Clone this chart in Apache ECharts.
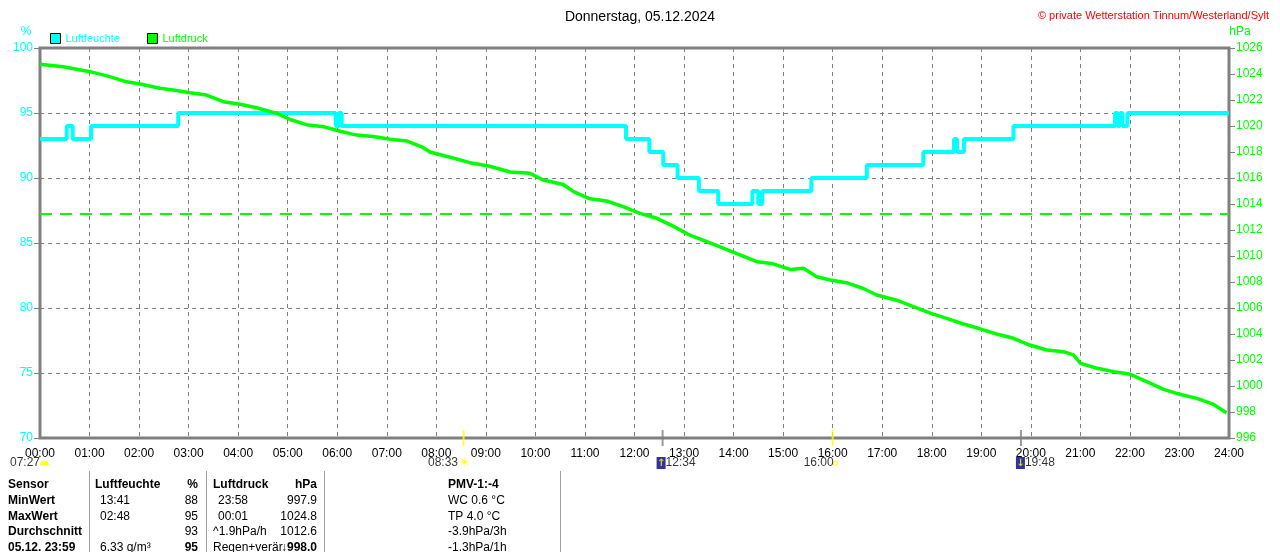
<!DOCTYPE html>
<html><head><meta charset="utf-8">
<script src="https://cdn.jsdelivr.net/npm/echarts/dist/echarts.min.js"></script>
<style>html,body{margin:0;padding:0;background:#fff}#c{width:1280px;height:552px}</style>
</head><body><div id="c"></div>
<script>
const hourLabels = ['00:00','01:00','02:00','03:00','04:00','05:00','06:00','07:00','08:00','09:00','10:00','11:00','12:00','13:00','14:00','15:00','16:00','17:00','18:00','19:00','20:00','21:00','22:00','23:00','24:00'];

const humidityTimes  = [0, 0.54, 0.66, 1.03, 2.79, 5.97, 6.03, 6.09, 11.83, 12.30, 12.58, 12.87, 13.30, 13.69, 14.38, 14.50, 14.58, 15.57, 16.69, 17.83, 18.45, 18.51, 18.65, 19.65, 21.70, 21.75, 21.80, 21.85, 21.95, 24];
const humidityValues = [93, 94, 93, 94, 95, 94, 95, 94, 93, 92, 91, 90, 89, 88, 89, 88, 89, 90, 91, 92, 93, 92, 93, 94, 95, 94, 95, 94, 95, 95];

const pressureTimes  = [0, 0.47, 1.01, 1.41, 1.75, 2.02, 2.42, 2.69, 3.03, 3.36, 3.70, 4.04, 4.37, 4.78, 5.05, 5.38, 5.72, 6.06, 6.39, 6.73, 7.07, 7.40, 7.74, 7.87, 8.28, 8.68, 9.08, 9.49, 9.89, 10.16, 10.56, 10.77, 11.10, 11.44, 11.77, 12.11, 12.45, 12.78, 13.12, 13.46, 13.79, 14.13, 14.47, 14.80, 15.14, 15.41, 15.68, 15.95, 16.28, 16.62, 16.89, 17.29, 17.63, 17.97, 18.30, 18.64, 18.97, 19.31, 19.65, 19.98, 20.32, 20.66, 20.86, 21.00, 21.34, 21.68, 22.01, 22.34, 22.68, 23.01, 23.35, 23.68, 23.95];
const pressureValues = [1024.75, 1024.56, 1024.18, 1023.8, 1023.4, 1023.23, 1022.9, 1022.77, 1022.56, 1022.38, 1021.87, 1021.67, 1021.4, 1020.97, 1020.5, 1020.1, 1019.95, 1019.6, 1019.3, 1019.2, 1018.98, 1018.85, 1018.33, 1018.0, 1017.6, 1017.18, 1016.9, 1016.46, 1016.36, 1015.85, 1015.5, 1014.95, 1014.4, 1014.23, 1013.8, 1013.28, 1012.9, 1012.3, 1011.6, 1011.1, 1010.6, 1010.08, 1009.56, 1009.4, 1008.97, 1009.05, 1008.4, 1008.15, 1007.95, 1007.5, 1007.0, 1006.6, 1006.1, 1005.6, 1005.2, 1004.77, 1004.4, 1004.0, 1003.67, 1003.15, 1002.77, 1002.64, 1002.4, 1001.75, 1001.36, 1001.1, 1000.9, 1000.33, 999.74, 999.36, 999.05, 998.6, 997.95];

const pressureReference = 1013.25;

const eventTimes  = [0, 8.55, 12.567, 16, 19.8];
const eventLabels = ['07:27', '08:33', '12:34', '16:00', '19:48'];

const tableRows = [
  ['Sensor', 'Luftfeuchte', '%', 'Luftdruck', 'hPa', 'PMV-1:-4'],
  ['MinWert', '13:41', '88', '23:58', '997.9', 'WC 0.6 °C'],
  ['MaxWert', '02:48', '95', '00:01', '1024.8', 'TP 4.0 °C'],
  ['Durchschnitt', '', '93', '^1.9hPa/h', '1012.6', '-3.9hPa/3h'],
  ['05.12. 23:59', '6.33 g/m³', '95', 'Regen+verär', '↓998.0', '-1.3hPa/1h']
];

const FONT = '"Liberation Sans", Arial, sans-serif';
const CYAN = '#00ffff', GREEN = '#00ff00', GRAY = '#808080';

const eventStyles = [
  {color: 'rgba(0,0,0,0)', align: 'right', px: 10, fmt: t => '{t|' + t + '}{dome| }'},
  {color: '#ffff00', align: 'right', px: 8, fmt: t => '{t|' + t + '}{sun|☀}'},
  {color: GRAY, align: 'left', px: -5, fmt: t => '{up|↑}{t|' + t + '}'},
  {color: '#ffff00', align: 'right', px: 6, fmt: t => '{t|' + t + '}{sq|}'},
  {color: GRAY, align: 'left', px: -4, fmt: t => '{dn|↓}{t|' + t + '}'}
];
const richIcons = {
  t: {fontSize: 12, color: '#000', fontFamily: FONT},
  dome: {width: 9, height: 5, backgroundColor: '#ffff00', borderRadius: [5,5,0,0]},
  sun: {fontSize: 14, color: '#ffff00', fontFamily: 'DejaVu Sans'},
  up: {fontSize: 10, color: '#ffff00', backgroundColor: '#000080', width: 9, height: 12, align: 'center', fontWeight: 'bold', fontFamily: 'DejaVu Sans'},
  dn: {fontSize: 10, color: '#ffff00', backgroundColor: '#000080', width: 9, height: 12, align: 'center', fontWeight: 'bold', fontFamily: 'DejaVu Sans'},
  sq: {width: 4, height: 4, borderColor: '#ffff00', borderWidth: 1}
};

const eventData = eventTimes.map((t, i) => {
  const s = eventStyles[i];
  return {
    value: [t, 70],
    itemStyle: {color: s.color},
    label: {show: true, position: [s.px, 33], align: s.align, verticalAlign: 'middle',
      formatter: s.fmt(eventLabels[i]), rich: richIcons}
  };
});

const colX     = [8, 100, 198, 218, 317, 448];
const colAlign = ['left', 'left', 'right', 'left', 'right', 'left'];
const rowY     = [485, 501, 517, 532, 548];
const graphics = [];
tableRows.forEach((row, r) => {
  row.forEach((txt, c) => {
    if (!txt) return;
    let x = colX[c];
    if (r === 0 && c === 1) x = 95;
    if (c === 3 && (r === 0 || r >= 3)) x = 213;
    const bold = r === 0 || c === 0 || (r === 4 && (c === 2 || c === 4));
    graphics.push({type: 'text', x: x, y: rowY[r], silent: true,
      style: {text: txt, fill: '#000', font: (bold ? 'bold ' : '') + '12px ' + FONT, align: colAlign[c], verticalAlign: 'middle'}});
  });
});
[89, 206, 324, 560].forEach(x => graphics.push({type: 'line', silent: true,
  shape: {x1: x + 0.5, y1: 471, x2: x + 0.5, y2: 552}, style: {stroke: '#a0a0a0', lineWidth: 1}}));

const chart = echarts.init(document.getElementById('c'), null, {renderer: 'canvas'});
chart.setOption({
  animation: false,
  backgroundColor: '#fff',
  title: [
    {text: 'Donnerstag, 05.12.2024', left: 'center', top: 5, textStyle: {fontSize: 14, fontWeight: 'normal', color: '#000', fontFamily: FONT}},
    {text: '© private Wetterstation Tinnum/Westerland/Sylt', right: 6, top: 5, textStyle: {fontSize: 11, fontWeight: 'normal', color: '#ff0000', fontFamily: FONT}}
  ],
  legend: {
    left: 50, top: 33, padding: 0, itemWidth: 10, itemHeight: 10, itemGap: 27, icon: 'rect',
    itemStyle: {borderColor: '#000', borderWidth: 1},
    textStyle: {fontSize: 11, fontFamily: FONT},
    data: [
      {name: 'Luftfeuchte', textStyle: {color: CYAN}},
      {name: 'Luftdruck', textStyle: {color: GREEN}}
    ]
  },
  grid: {left: 40, right: 51, top: 48, bottom: 114, show: true, borderColor: GRAY, borderWidth: 3, backgroundColor: 'transparent'},
  xAxis: {
    type: 'value', min: 0, max: 24, interval: 1,
    axisLine: {show: false}, axisTick: {show: false},
    axisLabel: {formatter: v => hourLabels[v], color: '#000', fontSize: 12, fontFamily: FONT, margin: 10},
    splitLine: {show: true, lineStyle: {color: GRAY, type: [4, 4], width: 1}}
  },
  yAxis: [
    {
      type: 'value', min: 70, max: 100, interval: 5, position: 'left',
      name: '%', nameLocation: 'end', nameGap: 10,
      nameTextStyle: {color: CYAN, fontSize: 12, fontFamily: FONT, padding: [0, 28, 0, 0]},
      axisLine: {show: false},
      axisTick: {show: true, length: 6, lineStyle: {color: GRAY, width: 1}},
      axisLabel: {color: CYAN, fontSize: 12, fontFamily: FONT, margin: 7, formatter: v => String(v)},
      splitLine: {show: true, lineStyle: {color: GRAY, type: [4, 4], width: 1}}
    },
    {
      type: 'value', min: 996, max: 1026, interval: 2, position: 'right',
      name: 'hPa', nameLocation: 'end', nameGap: 10,
      nameTextStyle: {color: GREEN, fontSize: 12, fontFamily: FONT, padding: [0, 0, 0, 22]},
      axisLine: {show: false},
      axisTick: {show: true, length: 6, lineStyle: {color: GRAY, width: 1}},
      axisLabel: {color: GREEN, fontSize: 12, fontFamily: FONT, margin: 7, formatter: v => String(v)},
      splitLine: {show: false}
    }
  ],
  series: [
    {
      name: 'Luftfeuchte', type: 'line', step: 'end', yAxisIndex: 0, showSymbol: false,
      color: CYAN, lineStyle: {color: CYAN, width: 4},
      data: humidityTimes.map((t, i) => [t, humidityValues[i]]), z: 3
    },
    {
      name: 'Luftdruck', type: 'line', yAxisIndex: 1, showSymbol: false,
      color: GREEN, lineStyle: {color: GREEN, width: 3.5},
      data: pressureTimes.map((t, i) => [t, pressureValues[i]]), z: 4,
      markLine: {silent: true, symbol: 'none', label: {show: false},
        lineStyle: {color: GREEN, type: [12, 8], width: 2},
        data: [{yAxis: pressureReference}]}
    },
    {
      name: 'events', type: 'scatter', yAxisIndex: 0, clip: false, symbol: 'rect', symbolSize: [2, 16],
      data: eventData, z: 5, silent: true
    }
  ],
  graphic: graphics
});
</script></body></html>
